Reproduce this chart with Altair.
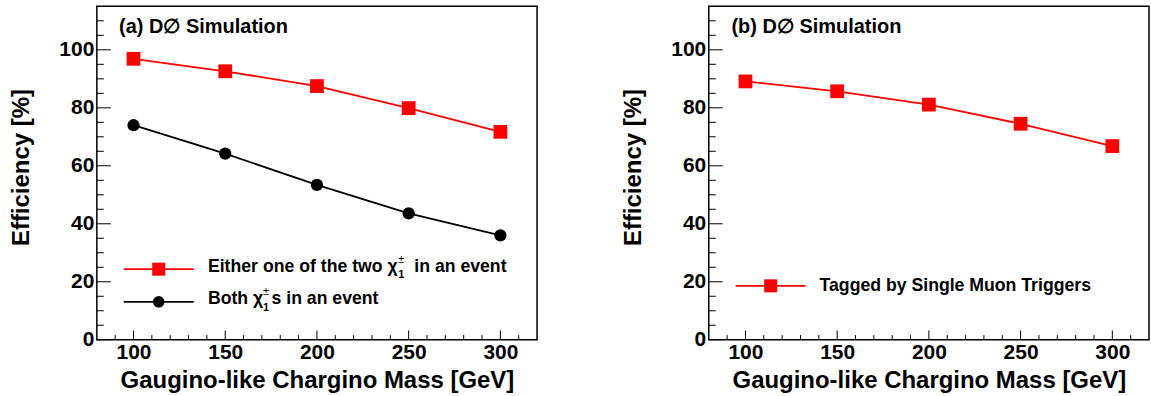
import altair as alt
import pandas as pd

# ---------------- data ----------------
mass = [100, 150, 200, 250, 300]
eff_either = [96.9, 92.6, 87.5, 79.9, 71.7]
eff_both = [74.0, 64.2, 53.4, 43.6, 36.0]
eff_single_mu = [89.1, 85.7, 81.1, 74.5, 66.8]

x_major = [100, 150, 200, 250, 300]
x_minor = [90, 110, 120, 130, 140, 160, 170, 180, 190, 210, 220, 230, 240,
           260, 270, 280, 290, 310]
y_major = [0, 20, 40, 60, 80, 100]
y_minor = [5, 10, 15, 25, 30, 35, 45, 50, 55, 65, 70, 75, 85, 90, 95, 105, 110]
x_domain = [80, 320]
y_domain = [0, 115]

headers = ["(a) D\u2205 Simulation", "(b) D\u2205 Simulation"]
legend_a1 = ["Either one of the two \u03c7", "in an event"]
legend_a2 = ["Both \u03c7", "s in an event"]
legend_b = "Tagged by Single Muon Triggers"
sup_sub = ["\u00b1", "1"]
x_title = "Gaugino-like Chargino Mass [GeV]"
y_title = "Efficiency [%]"

# ---------------- style ----------------
W, H = 441, 334
FONT = "Liberation Sans"
RED = "#ff0000"
BLACK = "#000000"

xs = alt.Scale(domain=x_domain, nice=False, zero=False)
ys = alt.Scale(domain=y_domain, nice=False, zero=False)


def series_layers(values, color, shape, size, with_axes):
    df = pd.DataFrame({"m": mass, "e": values})
    if with_axes:
        X = alt.X("m:Q", scale=xs, axis=alt.Axis(values=x_major, title=x_title,
                                                 format="d", labelPadding=2,
                                                 titlePadding=6))
        Y = alt.Y("e:Q", scale=ys, axis=alt.Axis(values=y_major, title=y_title,
                                                 format="d", labelPadding=3,
                                                 titlePadding=25, titleY=161))
    else:
        X = alt.X("m:Q", scale=xs)
        Y = alt.Y("e:Q", scale=ys)
    base = alt.Chart(df).encode(x=X, y=Y)
    line = base.mark_line(color=color, strokeWidth=1.8)
    pts = base.mark_point(shape=shape, filled=True, size=size, color=color,
                          opacity=1, strokeWidth=0)
    return [line, pts]


def tick_layers():
    layers = []
    for vals, ln in ((x_major, 9.3), (x_minor, 4.7)):
        layers.append(alt.Chart(pd.DataFrame({"m": vals})).mark_rule(
            color=BLACK, strokeWidth=1).encode(
            x=alt.X("m:Q", scale=xs), y=alt.value(H), y2=alt.value(H - ln)))
    for vals, ln in ((y_major, 14), (y_minor, 7)):
        layers.append(alt.Chart(pd.DataFrame({"e": vals})).mark_rule(
            color=BLACK, strokeWidth=1).encode(
            y=alt.Y("e:Q", scale=ys), x=alt.value(0), x2=alt.value(ln)))
    return layers


def txt(s, x, y, size=17.7, weight="bold", align="left"):
    return alt.Chart(pd.DataFrame({"t": [s]})).mark_text(
        font=FONT, fontSize=size, fontWeight=weight, align=align,
        baseline="alphabetic", color=BLACK).encode(
        x=alt.value(x), y=alt.value(y), text="t:N")


def legend_glyph(color, shape, size, y):
    d = pd.DataFrame({"k": [0]})
    ln = alt.Chart(d).mark_rule(color=color, strokeWidth=1.8).encode(
        x=alt.value(27), x2=alt.value(97), y=alt.value(y))
    pt = alt.Chart(d).mark_point(shape=shape, filled=True, size=size,
                                 color=color, opacity=1, strokeWidth=0).encode(
        x=alt.value(62), y=alt.value(y))
    return [ln, pt]


# ---------------- panel (a) ----------------
layers_a = []
layers_a += series_layers(eff_either, RED, "square", 190, True)
layers_a += series_layers(eff_both, BLACK, "circle", 150, False)
layers_a += tick_layers()
layers_a.append(txt(headers[0], 22.3, 26.5, size=20))
layers_a += legend_glyph(RED, "square", 170, 263.3)
layers_a += legend_glyph(BLACK, "circle", 135, 296)
layers_a.append(txt(legend_a1[0], 111.3, 266))
layers_a.append(txt(sup_sub[0], 305, 257, size=11, weight="normal", align="center"))
layers_a.append(txt(sup_sub[1], 305, 272.5, size=11, align="center"))
layers_a.append(txt(legend_a1[1], 318, 266))
layers_a.append(txt(legend_a2[0], 111.3, 298.3))
layers_a.append(txt(sup_sub[0], 169.5, 289.5, size=11, weight="normal", align="center"))
layers_a.append(txt(sup_sub[1], 169.5, 305, size=11, align="center"))
layers_a.append(txt(legend_a2[1], 175, 298.3))
panel_a = alt.layer(*layers_a).properties(width=W, height=H)

# ---------------- panel (b) ----------------
layers_b = []
layers_b += series_layers(eff_single_mu, RED, "square", 190, True)
layers_b += tick_layers()
layers_b.append(txt(headers[1], 22.7, 26.5, size=20))
layers_b += legend_glyph(RED, "square", 170, 280)
layers_b.append(txt(legend_b, 111, 285))
panel_b = alt.layer(*layers_b).properties(width=W, height=H)

chart = alt.hconcat(panel_a, panel_b, spacing=172, bounds="flush").properties(
    padding={"left": 9, "top": 5, "right": 1, "bottom": 0},
    background="white",
).configure_view(
    stroke=BLACK, strokeWidth=1.5, fill="white"
).configure_axis(
    grid=False, domain=False, ticks=False,
    labelFont=FONT, labelFontSize=21, labelFontWeight="bold", labelColor=BLACK,
    titleFont=FONT, titleFontSize=24, titleFontWeight="bold", titleColor=BLACK,
)

chart.save("out.html", embed_options={"renderer": "svg", "actions": False})
